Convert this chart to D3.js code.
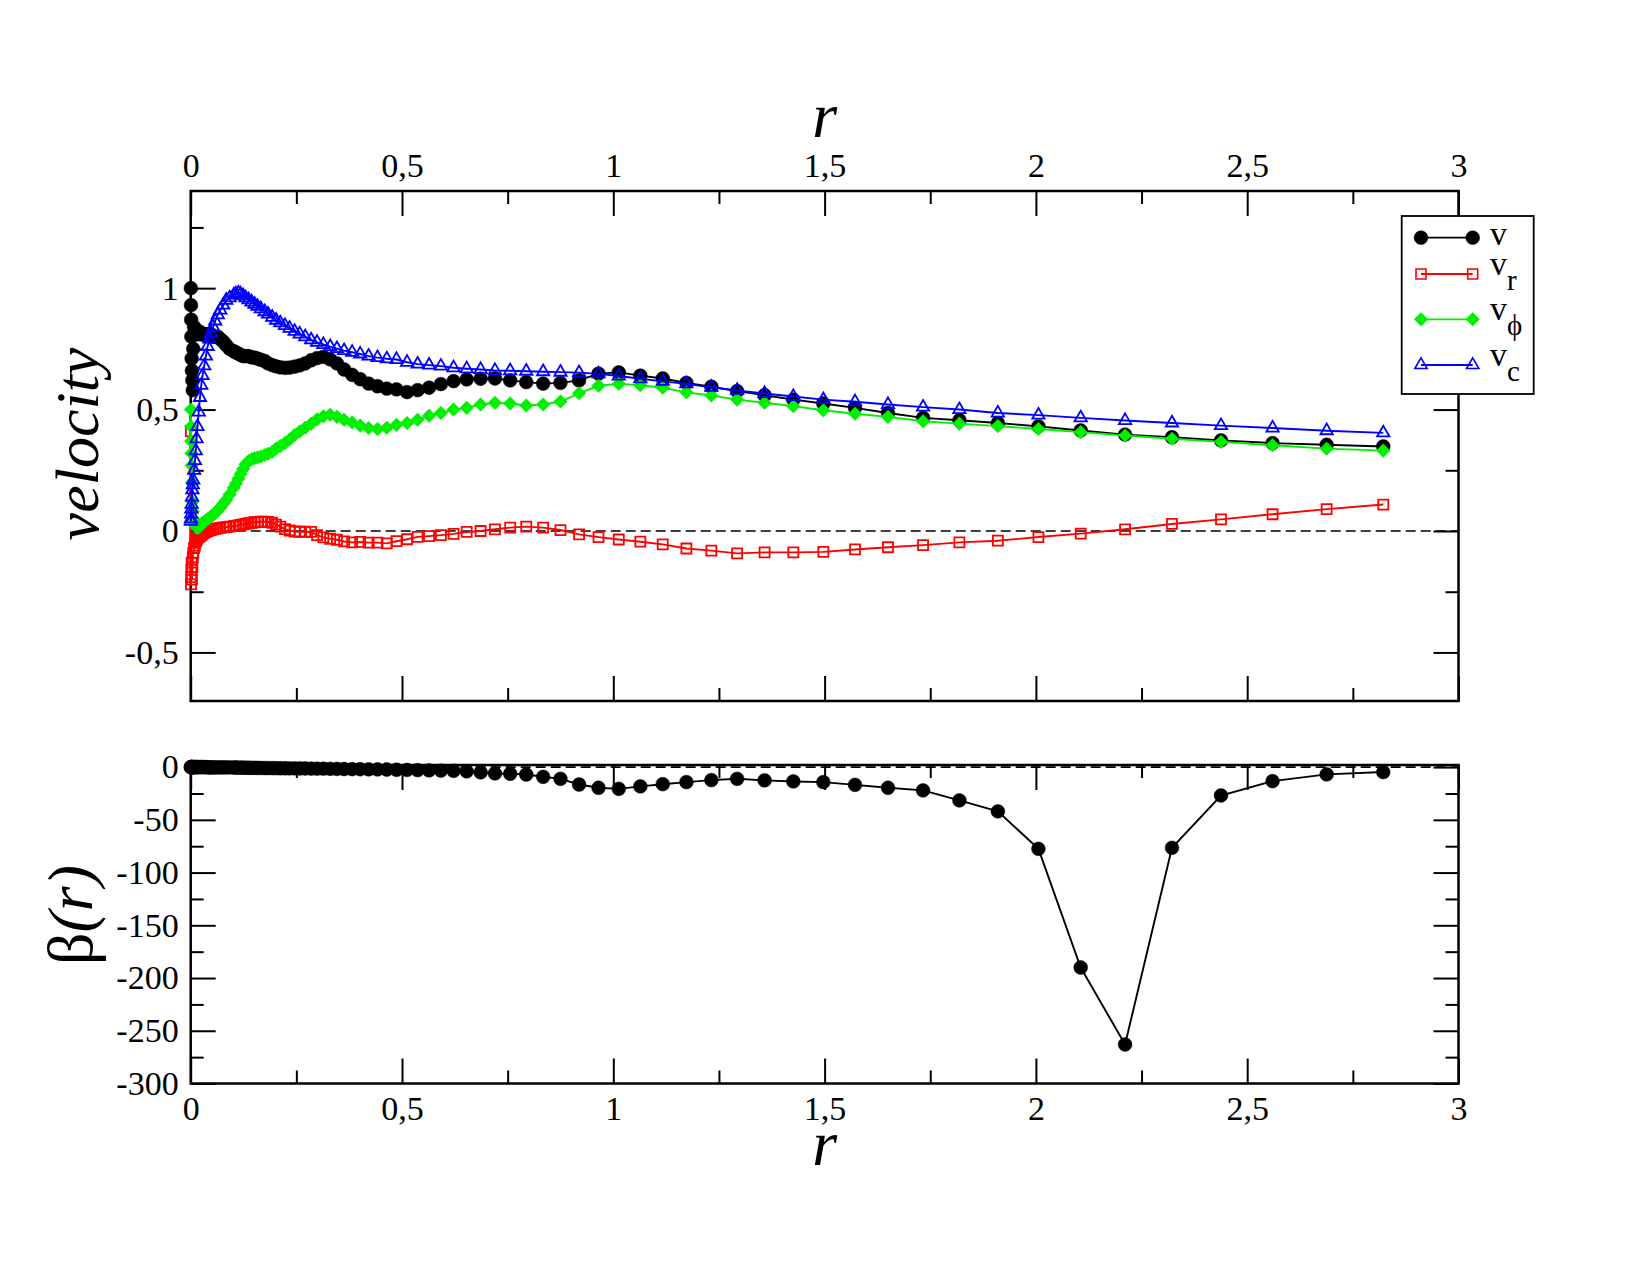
<!DOCTYPE html>
<html>
<head>
<meta charset="utf-8">
<script src="https://cdnjs.cloudflare.com/ajax/libs/d3/7.8.5/d3.min.js"></script>
<style>
body { margin: 0; background: #fff; }
</style>
</head>
<body>
<div id="chart"></div>
<script>
// radius bins (shared by both panels)
var r = [0.0004, 0.0007, 0.0011, 0.0016, 0.0022, 0.003, 0.004, 0.005, 0.006, 0.008,
         0.010, 0.012, 0.014, 0.016, 0.019, 0.022, 0.025, 0.028, 0.032, 0.036,
         0.040, 0.044, 0.048, 0.053, 0.058, 0.064, 0.070, 0.077, 0.084, 0.092,
         0.102, 0.107, 0.113, 0.118, 0.124, 0.130, 0.137, 0.144, 0.151, 0.158,
         0.166, 0.175, 0.183, 0.193, 0.202, 0.212, 0.223, 0.234, 0.246, 0.258,
         0.271, 0.285, 0.299, 0.314, 0.330, 0.346, 0.363, 0.382, 0.401, 0.421,
         0.442, 0.464, 0.487, 0.512, 0.537, 0.564, 0.592, 0.622, 0.653, 0.686,
         0.720, 0.756, 0.794, 0.834, 0.875, 0.919, 0.965, 1.013, 1.064, 1.117,
         1.173, 1.232, 1.293, 1.358, 1.426, 1.497, 1.572, 1.650, 1.733, 1.819,
         1.910, 2.006, 2.106, 2.211, 2.322, 2.438, 2.560, 2.688, 2.822];

var v = [1.00, 0.93, 0.87, 0.80, 0.71, 0.66, 0.62, 0.58, 0.75, 0.84,
         0.82, 0.83, 0.82, 0.81, 0.82, 0.82, 0.81, 0.81, 0.81, 0.81,
         0.81, 0.81, 0.81, 0.80, 0.80, 0.80, 0.79, 0.78, 0.765, 0.75,
         0.74, 0.735, 0.73, 0.725, 0.72, 0.72, 0.72, 0.715, 0.714, 0.71,
         0.705, 0.70, 0.69, 0.683, 0.678, 0.674, 0.672, 0.673, 0.677, 0.682,
         0.690, 0.703, 0.712, 0.717, 0.707, 0.690, 0.665, 0.643, 0.625, 0.607,
         0.596, 0.586, 0.583, 0.572, 0.580, 0.590, 0.605, 0.617, 0.624, 0.627,
         0.628, 0.620, 0.613, 0.607, 0.610, 0.620, 0.648, 0.653, 0.640, 0.628,
         0.610, 0.594, 0.576, 0.559, 0.541, 0.525, 0.507, 0.486, 0.466, 0.456,
         0.445, 0.431, 0.414, 0.397, 0.386, 0.373, 0.362, 0.355, 0.348];

var vr = [0.41, -0.22, -0.19, -0.16, -0.13, -0.20, -0.15, -0.11, -0.09, -0.07,
          -0.06, -0.045, -0.037, -0.03, -0.025, -0.02, -0.017, -0.012, -0.008, -0.004,
          0.0, 0.003, 0.005, 0.007, 0.009, 0.011, 0.013, 0.015, 0.016, 0.018,
          0.020, 0.021, 0.023, 0.025, 0.027, 0.029, 0.032, 0.034, 0.036, 0.037,
          0.038, 0.038, 0.037, 0.034, 0.026, 0.018, 0.008, 0.002, -0.002, -0.003,
          -0.003, -0.004, -0.017, -0.026, -0.032, -0.036, -0.043, -0.047, -0.045, -0.048,
          -0.048, -0.051, -0.042, -0.034, -0.024, -0.021, -0.017, -0.012, -0.004, 0.0,
          0.007, 0.014, 0.018, 0.014, 0.004, -0.014, -0.025, -0.035, -0.044, -0.055,
          -0.072, -0.081, -0.092, -0.088, -0.088, -0.086, -0.076, -0.067, -0.058, -0.047,
          -0.040, -0.025, -0.011, 0.007, 0.029, 0.048, 0.069, 0.090, 0.109];

var vphi = [0.50, 0.43, 0.37, 0.32, 0.27, 0.20, 0.12, 0.08, 0.05, 0.035,
            0.03, 0.02, 0.015, 0.012, 0.015, 0.02, 0.028, 0.033, 0.038, 0.043,
            0.048, 0.053, 0.06, 0.066, 0.074, 0.085, 0.097, 0.112, 0.128, 0.15,
            0.178, 0.195, 0.215, 0.235, 0.255, 0.275, 0.288, 0.295, 0.300, 0.303,
            0.307, 0.313, 0.318, 0.326, 0.340, 0.350, 0.362, 0.377, 0.395, 0.410,
            0.425, 0.442, 0.460, 0.472, 0.479, 0.470, 0.458, 0.447, 0.434, 0.424,
            0.420, 0.425, 0.437, 0.445, 0.458, 0.475, 0.486, 0.500, 0.507, 0.521,
            0.528, 0.525, 0.517, 0.521, 0.533, 0.567, 0.598, 0.606, 0.600, 0.590,
            0.571, 0.558, 0.541, 0.528, 0.514, 0.497, 0.483, 0.470, 0.452, 0.442,
            0.432, 0.420, 0.407, 0.393, 0.380, 0.367, 0.353, 0.339, 0.331];

var vc = [0.04, 0.05, 0.07, 0.09, 0.11, 0.14, 0.17, 0.19, 0.21, 0.25,
          0.29, 0.33, 0.38, 0.43, 0.49, 0.55, 0.60, 0.64, 0.68, 0.72,
          0.76, 0.79, 0.815, 0.84, 0.865, 0.89, 0.91, 0.93, 0.95, 0.96,
          0.972, 0.977, 0.980, 0.976, 0.969, 0.960, 0.952, 0.943, 0.934, 0.925,
          0.915, 0.903, 0.893, 0.880, 0.868, 0.857, 0.846, 0.835, 0.822, 0.811,
          0.800, 0.787, 0.777, 0.768, 0.759, 0.751, 0.743, 0.736, 0.729, 0.720,
          0.714, 0.709, 0.706, 0.695, 0.687, 0.683, 0.679, 0.672, 0.668, 0.665,
          0.661, 0.660, 0.658, 0.656, 0.654, 0.652, 0.647, 0.638, 0.627, 0.616,
          0.606, 0.592, 0.579, 0.566, 0.554, 0.541, 0.532, 0.521, 0.510, 0.500,
          0.486, 0.477, 0.466, 0.455, 0.445, 0.434, 0.424, 0.413, 0.404];

var beta = [0, 0, 0, 0, 0, 0, 0, 0, 0, 0,
            0, 0, 0, 0, 0, 0, 0, 0, 0, 0,
            -0.3, -0.3, -0.3, -0.3, -0.3, -0.3, -0.3, -0.3, -0.3, -0.3,
            -0.4, -0.4, -0.5, -0.5, -0.5, -0.6, -0.6, -0.7, -0.7, -0.8,
            -0.8, -0.9, -0.9, -1.0, -1.0, -1.1, -1.1, -1.2, -1.2, -1.3,
            -1.3, -1.4, -1.5, -1.5, -1.6, -1.7, -1.8, -1.9, -2.0, -2.1,
            -2.2, -2.3, -2.5, -2.7, -2.9, -3.1, -3.3, -3.5, -4.0, -5.0,
            -6.0, -6.3, -7.0, -9.2, -11.1, -16.5, -19.6, -20.6, -18.3, -16.2,
            -14.2, -12.3, -11.1, -12.6, -13.6, -14.2, -16.8, -19.6, -22.1, -31.6,
            -42, -77.5, -190, -263, -76.5, -26.9, -13.3, -6.9, -4.7];

var xMajor = [0, 0.5, 1, 1.5, 2, 2.5, 3];
var xMinor = [0.25, 0.75, 1.25, 1.75, 2.25, 2.75];
var velMajor = [-0.5, 0, 0.5, 1];
var velMinor = [-0.25, 0.25, 0.75, 1.25];
var betaMajor = [0, -50, -100, -150, -200, -250, -300];
var betaMinor = [-25, -75, -125, -175, -225, -275];

var FONT = '"Liberation Serif", "Times New Roman", Times, "DejaVu Serif", serif';
var W = 1650, H = 1275;
var left = 190.7, right = 1458.5;
var topA = 191, botA = 701;     // velocity panel
var topB = 765, botB = 1083.5;  // beta panel

var locale = d3.formatLocale({decimal: ",", thousands: ".", grouping: [3], currency: ["", ""], minus: "-"});
var fmt = locale.format("~g");

var svg = d3.select("#chart")
            .append("svg")
            .attr("width", W)
            .attr("height", H)
            .style("font-family", FONT);

var x = d3.scaleLinear().domain([0, 3]).range([left, right]);
var yV = d3.scaleLinear().domain([-0.7, 1.4]).range([botA, topA]);
var yB = d3.scaleLinear().domain([-300, 2]).range([botB, topB]);

function styleAxis(g) {
    g.select(".domain").remove();
    g.attr("font-size", null).attr("font-family", null);
    g.selectAll("text").style("font-family", FONT).style("font-size", "34px");
    g.selectAll(".tick line").attr("stroke-width", 2);
}

function frame(y, top, bot, yMajor, yMinor, labelTop) {
    var major = 25, minor = 13;
    var axTop = d3.axisTop(x).tickValues(xMajor).tickSize(-major).tickPadding(14)
                  .tickFormat(labelTop ? fmt : "");
    var axBot = d3.axisBottom(x).tickValues(xMajor).tickSize(-major).tickPadding(12)
                  .tickFormat(labelTop ? "" : fmt);
    svg.append("g").attr("transform", "translate(0," + top + ")").call(axTop).call(styleAxis);
    svg.append("g").attr("transform", "translate(0," + top + ")")
        .call(d3.axisTop(x).tickValues(xMinor).tickSize(-minor).tickFormat("")).call(styleAxis);
    svg.append("g").attr("transform", "translate(0," + bot + ")").call(axBot).call(styleAxis);
    svg.append("g").attr("transform", "translate(0," + bot + ")")
        .call(d3.axisBottom(x).tickValues(xMinor).tickSize(-minor).tickFormat("")).call(styleAxis);

    svg.append("g").attr("transform", "translate(" + left + ",0)")
        .call(d3.axisLeft(y).tickValues(yMajor).tickSize(-major).tickPadding(12).tickFormat(fmt))
        .call(styleAxis);
    svg.append("g").attr("transform", "translate(" + left + ",0)")
        .call(d3.axisLeft(y).tickValues(yMinor).tickSize(-minor).tickFormat(""))
        .call(styleAxis);
    svg.append("g").attr("transform", "translate(" + right + ",0)")
        .call(d3.axisRight(y).tickValues(yMajor).tickSize(-major).tickFormat(""))
        .call(styleAxis);
    svg.append("g").attr("transform", "translate(" + right + ",0)")
        .call(d3.axisRight(y).tickValues(yMinor).tickSize(-minor).tickFormat(""))
        .call(styleAxis);

    svg.append("rect")
        .attr("x", left).attr("y", top)
        .attr("width", right - left).attr("height", bot - top)
        .attr("fill", "none").attr("stroke", "#000").attr("stroke-width", 2.5);

    // dashed zero line
    svg.append("line")
        .attr("x1", x(0)).attr("x2", x(3))
        .attr("y1", y(0)).attr("y2", y(0))
        .attr("stroke", "#000").attr("stroke-width", 1.6)
        .attr("stroke-dasharray", "10,5");
}

frame(yV, topA, botA, velMajor, velMinor, true);
frame(yB, topB, botB, betaMajor, betaMinor, false);

var markers = {
    circle: {sym: d3.symbol(d3.symbolCircle, 150), rot: 0, fill: true},
    square: {sym: d3.symbol(d3.symbolSquare, 100), rot: 0, fill: false},
    diamond: {sym: d3.symbol(d3.symbolSquare, 92), rot: 45, fill: true},
    triangle: {sym: d3.symbol(d3.symbolTriangle, 66), rot: 0, fill: false}
};

var series = [
    {vals: v, color: "#000000", mark: "circle", label: "v", sub: ""},
    {vals: vr, color: "#ff0000", mark: "square", label: "v", sub: "r"},
    {vals: vphi, color: "#00f000", mark: "diamond", label: "v", sub: "\u03d5"},
    {vals: vc, color: "#0000ff", mark: "triangle", label: "v", sub: "c"}
];

function drawSeries(y, vals, color, markName) {
    var pts = r.map(function(d, i) { return [d, vals[i]]; });
    var m = markers[markName];
    svg.append("path")
        .datum(pts)
        .attr("fill", "none")
        .attr("stroke", color)
        .attr("stroke-width", 1.9)
        .attr("d", d3.line().x(d => x(d[0])).y(d => y(d[1])));
    svg.append("g").selectAll("path")
        .data(pts)
        .join("path")
        .attr("transform", d => "translate(" + x(d[0]) + "," + y(d[1]) + ")rotate(" + m.rot + ")")
        .attr("d", m.sym)
        .attr("fill", m.fill ? color : "none")
        .attr("stroke", color)
        .attr("stroke-width", m.fill ? 0.5 : 1.8);
}

series.forEach(function(s) { drawSeries(yV, s.vals, s.color, s.mark); });
drawSeries(yB, beta, "#000000", "circle");

// legend
var lg = svg.append("g");
lg.append("rect")
    .attr("x", 1401.7).attr("y", 216)
    .attr("width", 132).attr("height", 178)
    .attr("fill", "#fff").attr("stroke", "#000").attr("stroke-width", 1.8);
var rowY = [237.7, 274, 319.3, 365];
series.forEach(function(s, i) {
    var m = markers[s.mark];
    var yy = rowY[i];
    lg.append("line")
        .attr("x1", 1421).attr("x2", 1472.7)
        .attr("y1", yy).attr("y2", yy)
        .attr("stroke", s.color).attr("stroke-width", 1.8);
    [1421, 1472.7].forEach(function(px) {
        lg.append("path")
            .attr("transform", "translate(" + px + "," + yy + ")rotate(" + m.rot + ")")
            .attr("d", m.sym)
            .attr("fill", m.fill ? s.color : "none")
            .attr("stroke", s.color)
            .attr("stroke-width", m.fill ? 0.5 : 1.6);
    });
    var t = lg.append("text")
        .attr("x", 1490)
        .attr("y", s.sub ? yy + 1 : yy + 7.5)
        .style("font-family", FONT)
        .style("font-size", "34px")
        .text(s.label);
    if (s.sub) {
        t.append("tspan").attr("dy", 15).style("font-size", "29px").text(s.sub);
    }
});

// axis titles
svg.append("text")
    .attr("x", (left + right) / 2).attr("y", 137)
    .attr("text-anchor", "middle")
    .style("font-family", FONT).style("font-size", "64px").style("font-style", "italic")
    .text("r");
svg.append("text")
    .attr("x", (left + right) / 2).attr("y", 1165)
    .attr("text-anchor", "middle")
    .style("font-family", FONT).style("font-size", "64px").style("font-style", "italic")
    .text("r");
svg.append("text")
    .attr("transform", "translate(98,444)rotate(-90)")
    .attr("text-anchor", "middle")
    .style("font-family", FONT).style("font-size", "62px").style("font-style", "italic")
    .text("velocity");
var bt = svg.append("text")
    .attr("transform", "translate(92,915)rotate(-90)")
    .attr("text-anchor", "middle")
    .style("font-family", FONT).style("font-size", "64px");
bt.append("tspan").text("\u03b2");
bt.append("tspan").style("font-style", "italic").text("(r)");
</script>
</body>
</html>
